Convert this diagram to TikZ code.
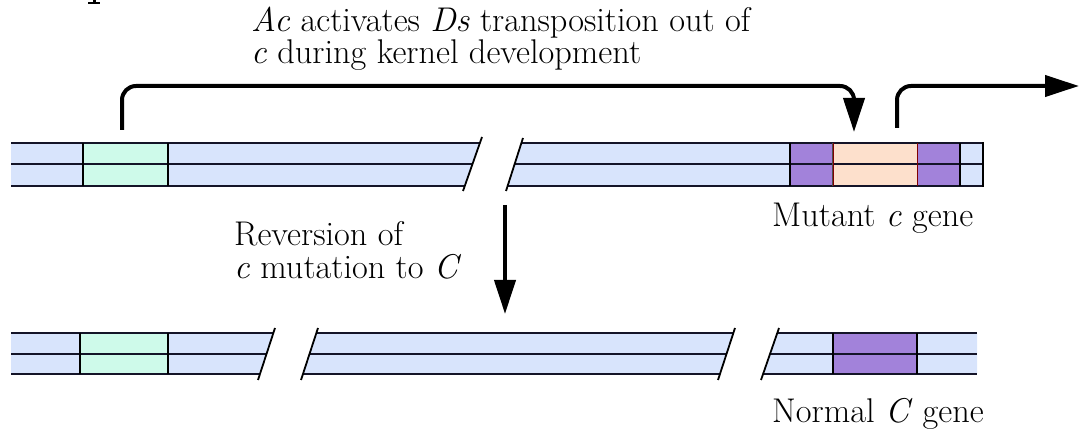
\documentclass[tikz,border=0pt]{standalone}
\usetikzlibrary{arrows.meta}
\definecolor{chromblue}{RGB}{216,228,252}
\definecolor{genegreen}{RGB}{206,250,234}
\definecolor{genepurple}{RGB}{162,130,218}
\definecolor{genepeach}{RGB}{253,224,204}
\definecolor{edgeline}{RGB}{20,20,40}
\tikzset{
  strand/.style={draw=edgeline,line width=2.2pt},
  boxedge/.style={draw=black,line width=2pt},
  breakline/.style={draw=black,line width=1.8pt},
  bigarrow/.style={draw=black,line width=4pt,rounded corners=14pt,-{Triangle[length=34pt,width=21pt]}},
  lbl/.style={anchor=base west,inner sep=0pt,font=\fontsize{34.3}{36}\selectfont}
}
\begin{document}
\begin{tikzpicture}[x=1pt,y=-1pt]
\useasboundingbox (0,0) rectangle (1081,435);
% partial glyph at top left
\fill (92.5,0) rectangle (96,3);
\fill (88,2.2) rectangle (100,4.4);
% ---------- top chromosome ----------
% left segment
\fill[chromblue] (11,143) -- (479.9,143) -- (464.8,186) -- (11,186) -- cycle;
\fill[genegreen] (83,143) rectangle (168,186);
\draw[strand] (11,143) -- (479.9,143);
\draw[strand] (11,164) -- (472.5,164);
\draw[strand] (11,186) -- (464.8,186);
\draw[boxedge] (83,143) -- (83,186) (168,143) -- (168,186);
\draw[breakline] (482,137) -- (463,191);
% right segment
\fill[chromblue] (521.4,143) -- (983,143) -- (983,186) -- (507.6,186) -- cycle;
\fill[genepurple] (790,143) rectangle (832,186);
\fill[genepeach] (833,143) rectangle (917,186);
\fill[genepurple] (917,143) rectangle (960,186);
\draw[strand] (521.4,143) -- (983,143);
\draw[strand] (514.7,164) -- (983,164);
\draw[strand] (507.6,186) -- (983,186);
\draw[boxedge] (790,143) -- (790,186) (960,143) -- (960,186) (983,142) -- (983,187);
\draw[draw=black!70,line width=1pt] (832.5,143) -- (832.5,186);
\draw[draw=red!50!black,line width=1pt] (917,143) -- (917,186) (833.8,143) -- (833.8,186);
\draw[breakline] (523,138) -- (506,191);
% ---------- bottom chromosome ----------
% segment 1
\fill[chromblue] (11,333) -- (273.4,333) -- (260.0,374) -- (11,374) -- cycle;
\fill[genegreen] (80,333) rectangle (168,374);
\draw[strand] (11,333) -- (273.4,333);
\draw[strand] (11,354) -- (266.5,354);
\draw[strand] (11,374) -- (260.0,374);
\draw[boxedge] (80,333) -- (80,374) (168,333) -- (168,374);
\draw[breakline] (275,328) -- (258,380);
% segment 2
\fill[chromblue] (316.4,333) -- (733.4,333) -- (720.0,374) -- (303.0,374) -- cycle;
\draw[strand] (316.4,333) -- (733.4,333);
\draw[strand] (309.5,354) -- (726.5,354);
\draw[strand] (303.0,374) -- (720.0,374);
\draw[breakline] (318,328) -- (301,380);
\draw[breakline] (735,328) -- (718,380);
% segment 3
\fill[chromblue] (777.3,333) -- (977,333) -- (977,374) -- (763.1,374) -- cycle;
\fill[genepurple] (833,333) rectangle (917,374);
\draw[strand] (777.3,333) -- (977,333);
\draw[strand] (770.0,354) -- (977,354);
\draw[strand] (763.1,374) -- (977,374);
\draw[boxedge] (833,333) -- (833,374) (917,333) -- (917,374);
\draw[breakline] (779,328) -- (761,380);
% ---------- arrows ----------
\coordinate (dsStart) at (122,130);
\coordinate (dsEnd) at (854,132);
\coordinate (outStart) at (897,128);
\coordinate (outEnd) at (1079,86);
\coordinate (revStart) at (505,205);
\coordinate (revEnd) at (505,314);
\draw[bigarrow] (dsStart) -- (dsStart |- 0,86) -- (dsEnd |- 0,86) -- (dsEnd);
\draw[bigarrow] (outStart) -- (outStart |- 0,86) -- (outEnd);
\draw[bigarrow,rounded corners=0pt] (revStart) -- (revEnd);
% ---------- labels ----------
\node[lbl] (lblAc1) at (251,32) {\textit{Ac} activates \textit{Ds} transposition out of};
\node[lbl] (lblAc2) at (251,64) {\textit{c} during kernel development};
\node[lbl] (lblRev1) at (234,246) {Reversion of};
\node[lbl] (lblRev2) at (234,279) {\textit{c} mutation to \textit{C}};
\node[lbl] (lblMut) at (772,227) {Mutant \textit{c} gene};
\node[lbl] (lblNorm) at (772,422) {Normal \textit{C} gene};
\end{tikzpicture}
\end{document}
